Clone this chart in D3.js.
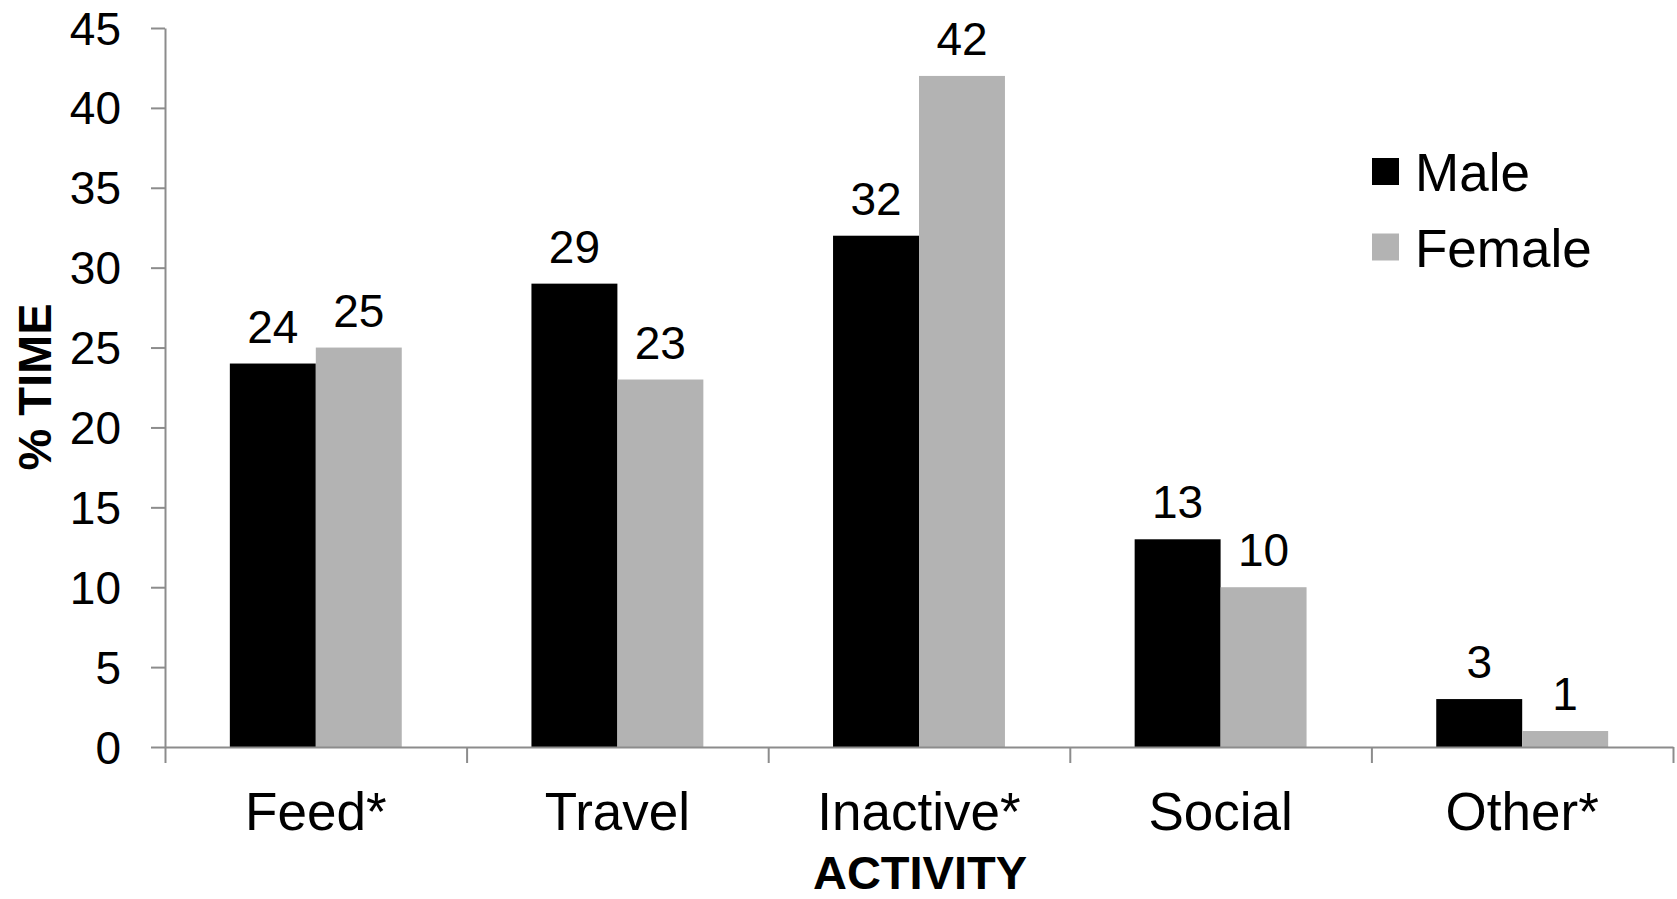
<!DOCTYPE html>
<html>
<head>
<meta charset="utf-8">
<script src="https://cdn.jsdelivr.net/npm/d3@7"></script>
<style>
  body { margin: 0; background: #fff; }
  svg text { font-family: "Liberation Sans", Arial, sans-serif; fill: #000; }
</style>
</head>
<body>
<div id="chart"></div>
<script>
// Data
const activities = ["Feed*", "Travel", "Inactive*", "Social", "Other*"];
const sexes      = ["Male", "Female"];
const maleVals   = [24, 29, 32, 13, 3];
const femaleVals = [25, 23, 42, 10, 1];
const yTicks     = [0, 5, 10, 15, 20, 25, 30, 35, 40, 45];

const colors = { Male: "#000000", Female: "#b3b3b3" };
const axisColor = "#8c8c8c";

let w = 1677, h = 899;
let margin = { top: 28, right: 4, bottom: 152, left: 165 };

const svg = d3.select("#chart").append("svg")
    .attr("width", w)
    .attr("height", h);

const plotW = w - margin.left - margin.right,
      plotH = h - margin.top - margin.bottom;

const g = svg.append("g")
    .attr("transform", `translate(${margin.left},${margin.top})`);

// Scales
const x0 = d3.scaleBand().domain(activities).range([0, plotW]);
const x1 = d3.scaleBand().domain(sexes)
    .range([x0.bandwidth() * 0.215, x0.bandwidth() * 0.785]);
const y = d3.scaleLinear().domain([0, 45]).range([plotH, 0]);

// Category boundaries for the x tick marks
const xEdge = d3.scaleLinear().domain([0, activities.length]).range([0, plotW]);

// Rows for the bars
const rows = activities.map((a, i) => ({ activity: a, Male: maleVals[i], Female: femaleVals[i] }));

// Bars
const groups = g.selectAll(".grp")
  .data(rows)
  .enter().append("g")
    .attr("class", "grp")
    .attr("transform", d => `translate(${x0(d.activity)},0)`);

groups.selectAll("rect")
  .data(d => sexes.map(s => ({ key: s, value: d[s] })))
  .enter().append("rect")
    .attr("x", d => x1(d.key))
    .attr("y", d => y(d.value))
    .attr("width", x1.bandwidth())
    .attr("height", d => plotH - y(d.value))
    .attr("fill", d => colors[d.key]);

// Value labels
groups.selectAll(".val")
  .data(d => sexes.map(s => ({ key: s, value: d[s] })))
  .enter().append("text")
    .attr("class", "val")
    .attr("x", d => x1(d.key) + x1.bandwidth() / 2)
    .attr("y", d => y(d.value) - 21)
    .attr("text-anchor", "middle")
    .style("font-size", "46px")
    .text(d => d.value);

// Y axis
const yAxis = g.append("g")
    .call(d3.axisLeft(y).tickValues(yTicks).tickSize(14).tickSizeOuter(0).tickPadding(30));
yAxis.selectAll("path, line").attr("stroke", axisColor).attr("stroke-width", 2);
yAxis.selectAll("text")
    .style("font-size", "46px")
    .attr("font-family", null)
    .attr("fill", "#000")
    .attr("dy", "0.35em");

// X axis: boundary ticks
const xAxis = g.append("g")
    .attr("transform", `translate(0,${plotH})`)
    .call(d3.axisBottom(xEdge).ticks(activities.length).tickFormat("").tickSize(16).tickSizeOuter(0));
xAxis.selectAll("path, line").attr("stroke", axisColor).attr("stroke-width", 2);

// X axis: category labels
const xLabels = g.append("g")
    .attr("transform", `translate(0,${plotH})`)
    .call(d3.axisBottom(x0).tickSize(0).tickPadding(0));
xLabels.select(".domain").remove();
xLabels.selectAll("text")
    .attr("font-family", null)
    .attr("fill", "#000")
    .attr("dy", 0)
    .attr("y", 83)
    .style("font-size", "53px");

// Axis titles
svg.append("text")
    .attr("transform", `translate(51,${margin.top + 359}) rotate(-90)`)
    .attr("text-anchor", "middle")
    .style("font-size", "47px")
    .style("font-weight", "bold")
    .text("% TIME");

svg.append("text")
    .attr("x", 920)
    .attr("y", 889)
    .attr("text-anchor", "middle")
    .style("font-size", "47px")
    .style("font-weight", "bold")
    .text("ACTIVITY");

// Legend
const legend = svg.append("g")
    .attr("transform", "translate(1372,158)");

const items = legend.selectAll(".item")
  .data(sexes)
  .enter().append("g")
    .attr("class", "item")
    .attr("transform", (d, i) => `translate(0,${i * 75.5})`);

items.append("rect")
    .attr("width", 27)
    .attr("height", 27)
    .attr("fill", d => colors[d]);

items.append("text")
    .attr("x", 43)
    .attr("y", 33)
    .style("font-size", "53px")
    .text(d => d);
</script>
</body>
</html>
